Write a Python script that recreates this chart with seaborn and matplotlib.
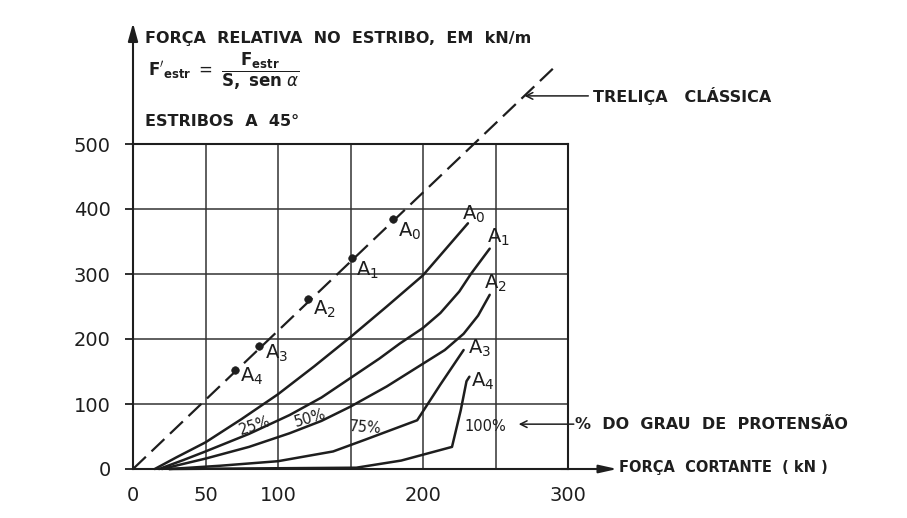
import numpy as np
import pandas as pd
import matplotlib.pyplot as plt
import seaborn as sns

# ---- data ----

# solid curves: force in stirrup vs shear force, one per degree of prestress
a0_v = [15, 30, 50, 75, 100, 125, 150, 175, 200, 231]
a0_f = [0, 18, 41, 77, 115, 158, 203, 250, 298, 378]
a1_v = [18, 35, 50, 80, 108, 130, 150, 170, 184, 200, 212, 225, 233, 246]
a1_f = [0, 14, 27, 54, 83, 110, 140, 170, 193, 217, 240, 273, 300, 339]
a2_v = [20, 35, 50, 80, 108, 130, 150, 175, 200, 215, 228, 238, 246]
a2_f = [0, 8, 16, 34, 55, 74, 96, 127, 162, 183, 208, 236, 268]
a3_v = [25, 60, 100, 138, 160, 196, 212, 228]
a3_f = [0, 5, 12, 27, 45, 75, 130, 183]
a4_v = [25, 154, 185, 220, 226, 230, 232]
a4_f = [0, 2, 13, 34, 90, 135, 142]

curvas = ['A0', 'A1', 'A2', 'A3', 'A4']
graus = ['0%', '25%', '50%', '75%', '100%']

# classical truss (dashed) and its marked points
trelica_v = [0, 292]
trelica_f = [0, 621]
pontos_v = [179, 151, 121, 87, 70]
pontos_f = [385, 324, 262, 189, 152]

x_ticks = [0, 50, 100, 150, 200, 250, 300]
x_labels = ['0', '50', '100', '', '200', '', '300']
y_ticks = [0, 100, 200, 300, 400, 500]

# long-form table for seaborn
df = pd.concat([
    pd.DataFrame({'v': v, 'f': f, 'curva': c})
    for v, f, c in zip([a0_v, a1_v, a2_v, a3_v, a4_v],
                       [a0_f, a1_f, a2_f, a3_f, a4_f], curvas)
], ignore_index=True)

# ---- figure ----

sns.set_theme(style='white')
plt.rcParams['font.family'] = ['DejaVu Sans']
plt.rcParams['mathtext.fontset'] = 'dejavusans'

ink = '#1e1e1e'
fig = plt.figure(figsize=(9.07, 5.18), dpi=100)
ax = fig.add_axes([133 / 907, 49 / 518, 435 / 907, 325 / 518])
ax.set_xlim(0, 300)
ax.set_ylim(0, 500)

ax.set_xticks(x_ticks)
ax.set_xticklabels(x_labels)
ax.set_yticks(y_ticks)
ax.tick_params(axis='x', length=0, pad=12, labelsize=14, colors=ink)
ax.tick_params(axis='y', length=6, width=1.3, direction='out', pad=10,
               labelsize=14, colors=ink, left=True)
ax.grid(True, color='#333333', linewidth=1.1)
for s in ax.spines.values():
    s.set_color(ink)
    s.set_linewidth(1.5)

# axes arrows beyond the grid
ax.annotate('', xy=(0, 686), xytext=(0, 495), annotation_clip=False,
            arrowprops=dict(arrowstyle='-|>,head_length=0.9,head_width=0.25',
                            color=ink, lw=1.5, shrinkA=0, shrinkB=0))
ax.annotate('', xy=(334, 0), xytext=(295, 0), annotation_clip=False,
            arrowprops=dict(arrowstyle='-|>,head_length=0.9,head_width=0.2',
                            color=ink, lw=1.5, shrinkA=0, shrinkB=0))

# curves
sns.lineplot(data=df, x='v', y='f', units='curva', estimator=None, sort=False,
             color=ink, linewidth=1.8, legend=False, ax=ax, clip_on=False)

# classical truss
ax.plot(trelica_v, trelica_f, color=ink, linewidth=1.6, dashes=[8, 3.5],
        clip_on=False)
sns.scatterplot(x=pontos_v, y=pontos_f, color=ink, s=30, edgecolor=ink,
                zorder=5, ax=ax, clip_on=False, legend=False)

ax.set_xlabel('')
ax.set_ylabel('')

# labels of the points on the dashed line
lab = dict(fontsize=14, color=ink, ha='center', va='center', clip_on=False)
for (x, y), c in zip([(191, 366), (162, 306), (132, 246), (99, 178), (82, 143)], curvas):
    ax.text(x, y, rf'$\mathregular{{{c[0]}_{c[1]}}}$', **lab)
# labels at the ends of the solid curves
for (x, y), c in zip([(235, 392), (252, 357), (250, 285), (239, 185), (241, 135)], curvas):
    ax.text(x, y, rf'$\mathregular{{{c[0]}_{c[1]}}}$', **lab)

# degree of prestress on the curves
pct = dict(fontsize=10.5, color=ink, ha='center', va='center')
ax.text(84, 67, graus[1], rotation=18, **pct)
ax.text(122, 78, graus[2], rotation=16, **pct)
ax.text(160, 64, graus[3], rotation=-4, **pct)
ax.text(243, 65, graus[4], **pct)

# titles and notes
head = dict(fontsize=11.5, fontweight='bold', color=ink, va='center',
            clip_on=False)
ax.text(8, 663, 'FORÇA  RELATIVA  NO  ESTRIBO,  EM  kN/m', **head)
ax.text(10, 611, r"$\mathbf{F'_{estr}}\ =\ \dfrac{\mathbf{F_{estr}}}{\mathbf{S,\ sen}\ \alpha}$",
        fontsize=12, color=ink, va='center', clip_on=False)
ax.text(8, 534, 'ESTRIBOS  A  45°', **head)

ax.text(317, 574, 'TRELIÇA   CLÁSSICA', **head)
ax.annotate('', xy=(270, 574), xytext=(314, 574), annotation_clip=False,
            arrowprops=dict(arrowstyle='->', color=ink, lw=1.1,
                            shrinkA=0, shrinkB=0))

ax.text(305, 69, '%  DO  GRAU  DE  PROTENSÃO', **head)
ax.annotate('', xy=(266, 69), xytext=(304, 69), annotation_clip=False,
            arrowprops=dict(arrowstyle='->', color=ink, lw=1.1,
                            shrinkA=0, shrinkB=0))

ax.text(335, 2, 'FORÇA  CORTANTE  ( kN )', fontsize=10.5, fontweight='bold',
        color=ink, va='center', clip_on=False)

fig.savefig('out.png', dpi=100, facecolor='white')
